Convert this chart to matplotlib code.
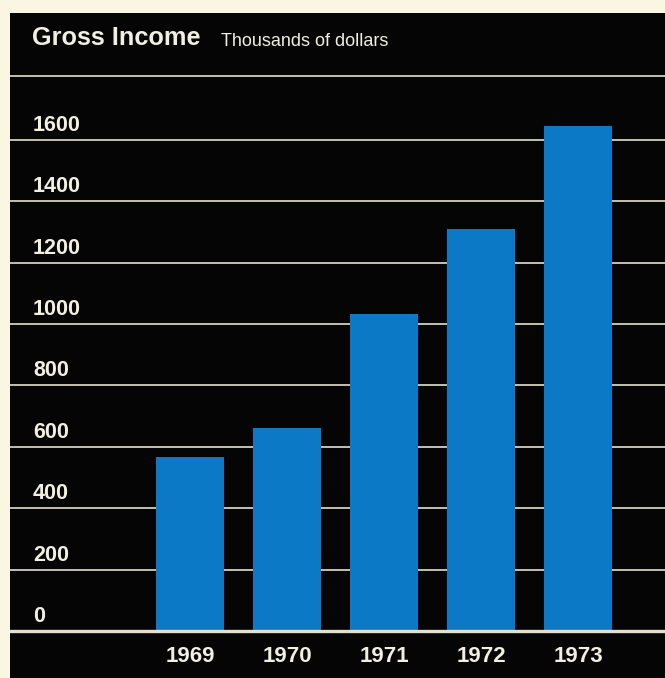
import matplotlib
matplotlib.use("Agg")
import matplotlib.pyplot as plt
import matplotlib.transforms as mtransforms

years = ["1969", "1970", "1971", "1972", "1973"]
income = [567, 661, 1033, 1309, 1645]
y_ticks = [0, 200, 400, 600, 800, 1000, 1200, 1400, 1600]

cream = "#faf6e2"
panel = "#050505"
line_col = "#e4e0cc"
bar_col = "#0b79c6"
bold_font = ["Liberation Sans", "DejaVu Sans"]
narrow_font = ["Liberation Sans Narrow", "Liberation Sans", "DejaVu Sans"]

fig = plt.figure(figsize=(6.65, 6.78), dpi=100, facecolor=cream)
ax = fig.add_axes([10 / 665, 0, 655 / 665, 665 / 678])
ax.set_facecolor(panel)
for s in ax.spines.values():
    s.set_visible(False)
ax.set_xticks([])
ax.set_yticks([])

# scale: 0 at pixel 631, 1600 at pixel 140
ax.set_ylim(-153, 2013)
ax.set_xlim(-1.856, 4.897)

x = list(range(len(years)))
ax.bar(x, income, width=0.70, color=bar_col, zorder=3)

for v in y_ticks[1:]:
    ax.axhline(v, color=line_col, lw=1.2, zorder=1)
ax.axhline(0, color=line_col, lw=2.4, zorder=4)

# line under title
ax.plot([0, 1], [0.905, 0.905], transform=ax.transAxes, color=line_col, lw=1.2)

lab_tr = mtransforms.offset_copy(
    mtransforms.blended_transform_factory(ax.transAxes, ax.transData),
    fig=fig, x=0, y=4, units="dots")
for v in y_ticks:
    ax.text(0.035, v, str(v), transform=lab_tr, color="#f2efe0",
            fontsize=15.5, fontweight="bold", family=bold_font,
            ha="left", va="bottom")

yr_tr = mtransforms.offset_copy(ax.transData, fig=fig, x=0, y=-25, units="dots")
for xi, yr in zip(x, years):
    ax.text(xi, 0, yr, transform=yr_tr, color="#f2efe0",
            fontsize=16, fontweight="bold", family=bold_font,
            ha="center", va="center")

t = ax.text(0.0336, 0.952, "Gross Income", transform=ax.transAxes,
            color="#f2efe0", fontsize=18.2, fontweight="bold",
            family=bold_font, ha="left", va="baseline")
fig.canvas.draw()
bb = t.get_window_extent()
ax.text(bb.x1 + 20, bb.y0 + 4, "Thousands of dollars", transform=None,
        color="#f2efe0", fontsize=13, family=narrow_font,
        ha="left", va="baseline")

fig.savefig("out.png", dpi=100, facecolor=cream)
